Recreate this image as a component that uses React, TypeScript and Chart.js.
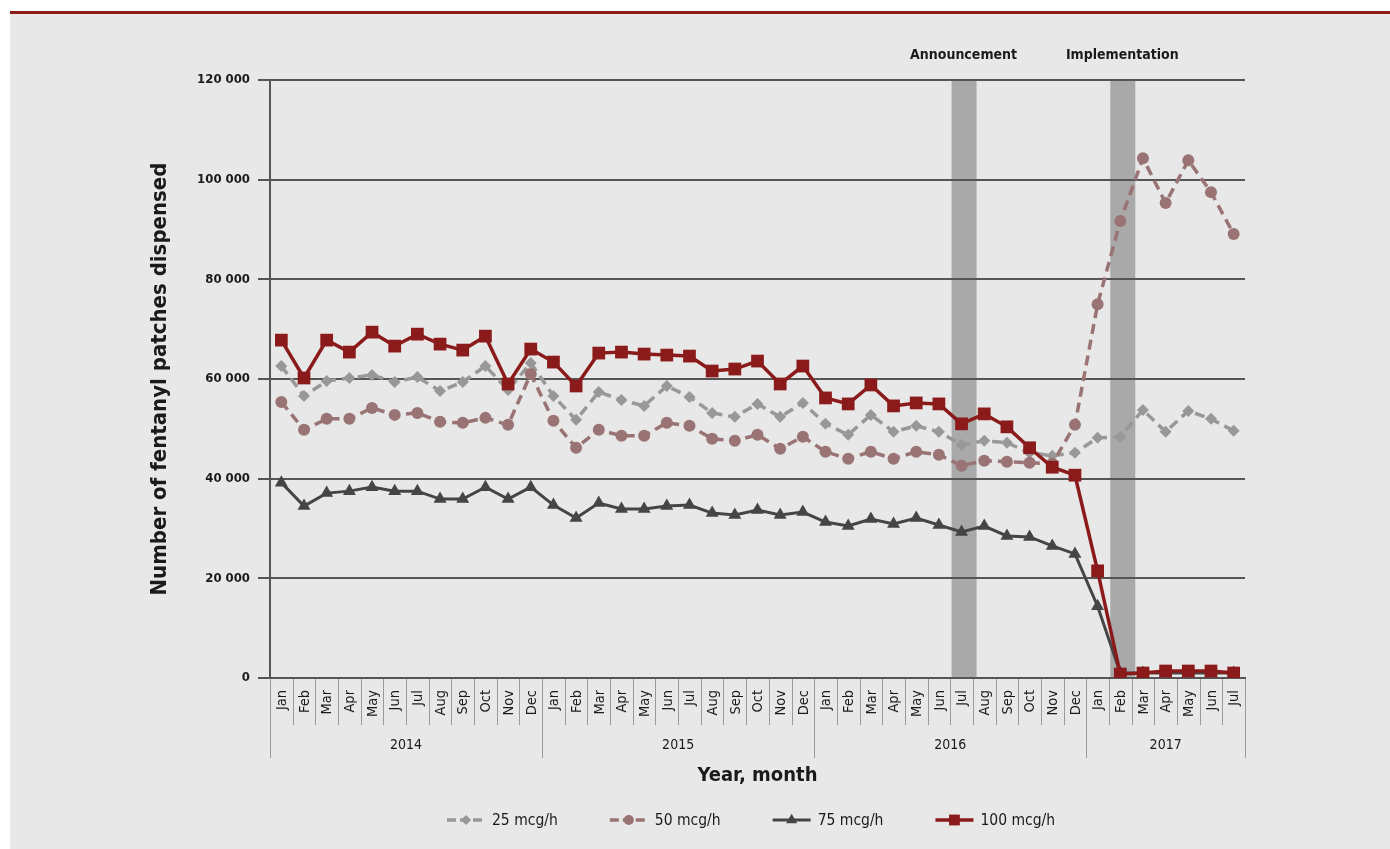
import React, { useEffect, useRef } from 'react';
import { Chart, registerables } from 'chart.js';
import { drawPoint } from 'chart.js/helpers';

Chart.register(...registerables);

const FONT = "'Liberation Sans Narrow', 'DejaVu Sans Condensed', 'Arial Narrow', 'Liberation Sans', sans-serif";

const months = [
  'Jan', 'Feb', 'Mar', 'Apr', 'May', 'Jun', 'Jul', 'Aug', 'Sep', 'Oct', 'Nov', 'Dec',
  'Jan', 'Feb', 'Mar', 'Apr', 'May', 'Jun', 'Jul', 'Aug', 'Sep', 'Oct', 'Nov', 'Dec',
  'Jan', 'Feb', 'Mar', 'Apr', 'May', 'Jun', 'Jul', 'Aug', 'Sep', 'Oct', 'Nov', 'Dec',
  'Jan', 'Feb', 'Mar', 'Apr', 'May', 'Jun', 'Jul',
];
const monthYears = [
  '2014', '2014', '2014', '2014', '2014', '2014', '2014', '2014', '2014', '2014', '2014', '2014',
  '2015', '2015', '2015', '2015', '2015', '2015', '2015', '2015', '2015', '2015', '2015', '2015',
  '2016', '2016', '2016', '2016', '2016', '2016', '2016', '2016', '2016', '2016', '2016', '2016',
  '2017', '2017', '2017', '2017', '2017', '2017', '2017',
];

const mcg25 = [
  62600, 56600, 59600, 60200, 60800, 59400, 60400, 57600, 59400, 62600, 57800, 63200,
  56600, 51800, 57400, 55800, 54600, 58600, 56400, 53200, 52400, 55000, 52400, 55200,
  51000, 48800, 52800, 49400, 50600, 49400, 46800, 47600, 47200, 45200, 44600, 45200,
  48200, 48400, 53800, 49400, 53600, 52000, 49600,
];
const mcg50 = [
  55400, 49800, 52000, 52000, 54200, 52800, 53200, 51400, 51200, 52200, 50800, 61000,
  51600, 46200, 49800, 48600, 48600, 51200, 50600, 48000, 47600, 48800, 46000, 48400,
  45400, 44000, 45400, 44000, 45400, 44800, 42600, 43600, 43400, 43200, 43000, 50800,
  75000, 91700, 104300, 95300, 103900, 97500, 89100,
];
const mcg75 = [
  39200, 34500, 37100, 37500, 38300, 37500, 37500, 35900, 35900, 38300, 35900, 38300,
  34700, 32100, 35100, 33900, 33900, 34500, 34700, 33100, 32700, 33700, 32700, 33300,
  31300, 30500, 31900, 30900, 32100, 30700, 29300, 30500, 28500, 28300, 26500, 24900,
  14400, 1000, 1000, 1000, 1000, 1000, 1000,
];
const mcg100 = [
  67800, 60200, 67800, 65400, 69400, 66600, 69000, 67000, 65800, 68600, 59000, 66000,
  63400, 58600, 65200, 65400, 65000, 64800, 64600, 61600, 62000, 63600, 59000, 62600,
  56200, 55000, 58800, 54600, 55200, 55000, 51000, 53000, 50400, 46200, 42300, 40700,
  21500, 800, 1000, 1400, 1400, 1400, 1000,
];

const yTicks = [0, 20000, 40000, 60000, 80000, 100000, 120000];

const bandLabels = ['Announcement', 'Implementation'];
const bandMonthIndex = [30, 37];

const seriesLabels = ['25 mcg/h', '50 mcg/h', '75 mcg/h', '100 mcg/h'];

const fmt = (v: number) => String(v).replace(/\B(?=(\d{3})+(?!\d))/g, ' ');

const bandsPlugin = {
  id: 'bands',
  beforeDraw(chart: any) {
    const { ctx, chartArea, scales } = chart;
    const x = scales.x;
    ctx.save();
    bandMonthIndex.forEach((idx, k) => {
      const c = x.getPixelForValue(idx);
      ctx.fillStyle = '#a9a9a9';
      ctx.fillRect(c - 10, chartArea.top, 25, chartArea.bottom - chartArea.top);
      ctx.fillStyle = '#1a1a1a';
      ctx.font = `bold 14px ${FONT}`;
      ctx.textAlign = 'center';
      ctx.textBaseline = 'middle';
      ctx.fillText(bandLabels[k], c + 2, chartArea.top - 25);
    });
    ctx.restore();
  },
};

const xLabelsPlugin = {
  id: 'xlabels',
  afterDraw(chart: any) {
    const { ctx, chartArea, scales } = chart;
    const x = scales.x;
    const n = months.length;
    const cw = (x.getPixelForValue(n - 1) - x.getPixelForValue(0)) / (n - 1);
    const bottom = chartArea.bottom;
    ctx.save();
    ctx.strokeStyle = '#9a9a9a';
    ctx.lineWidth = 1;
    for (let i = 0; i <= n; i++) {
      const xb = Math.round(i < n ? x.getPixelForValue(i) - cw / 2 : x.getPixelForValue(n - 1) + cw / 2) + 0.5;
      const yearEdge = i === 0 || i === n || monthYears[i] !== monthYears[i - 1];
      ctx.beginPath();
      ctx.moveTo(xb, bottom + 1);
      ctx.lineTo(xb, bottom + (yearEdge ? 80 : 47));
      ctx.stroke();
    }
    ctx.fillStyle = '#1a1a1a';
    ctx.font = `14.5px ${FONT}`;
    for (let i = 0; i < n; i++) {
      const cx = x.getPixelForValue(i);
      ctx.save();
      ctx.translate(cx, bottom + 12);
      ctx.rotate(-Math.PI / 2);
      ctx.textAlign = 'right';
      ctx.textBaseline = 'middle';
      ctx.fillText(months[i], 0, 1);
      ctx.restore();
    }
    let start = 0;
    ctx.font = `14px ${FONT}`;
    ctx.textAlign = 'center';
    ctx.textBaseline = 'middle';
    for (let i = 1; i <= n; i++) {
      if (i === n || monthYears[i] !== monthYears[i - 1]) {
        const cx = (x.getPixelForValue(start) + x.getPixelForValue(i - 1)) / 2;
        ctx.fillText(monthYears[start], cx, bottom + 67);
        start = i;
      }
    }
    ctx.restore();
  },
};

const legendPlugin = {
  id: 'customLegend',
  afterDraw(chart: any) {
    const { ctx } = chart;
    const y = 806;
    let xPos = 437;
    ctx.save();
    ctx.font = `15.5px ${FONT}`;
    ctx.textBaseline = 'middle';
    ctx.textAlign = 'left';
    chart.data.datasets.forEach((ds: any) => {
      const lineLen = 38;
      ctx.strokeStyle = ds.borderColor;
      ctx.lineWidth = ds.borderWidth;
      ctx.setLineDash(ds.borderDash ? [9, 4] : []);
      ctx.beginPath();
      ctx.moveTo(xPos, y);
      ctx.lineTo(xPos + lineLen, y);
      ctx.stroke();
      ctx.setLineDash([]);
      ctx.fillStyle = ds.pointBackgroundColor;
      ctx.strokeStyle = ds.pointBackgroundColor;
      drawPoint(ctx, { pointStyle: ds.pointStyle, radius: ds.pointRadius * 0.85, borderWidth: 0, rotation: 0 }, xPos + lineLen / 2, y);
      ctx.fillStyle = '#1a1a1a';
      ctx.fillText(ds.label, xPos + lineLen + 7, y + 1);
      const w = ctx.measureText(ds.label).width;
      xPos += lineLen + 7 + w + 52;
    });
    ctx.restore();
  },
};

export default function App() {
  const ref = useRef<HTMLCanvasElement | null>(null);

  useEffect(() => {
    if (!ref.current) return;
    const chart = new Chart(ref.current, {
      type: 'line',
      data: {
        labels: months.map((m, i) => `${m} ${monthYears[i]}`),
        datasets: [
          {
            label: seriesLabels[0],
            data: mcg25,
            borderColor: '#9a9797',
            backgroundColor: '#9a9797',
            pointBackgroundColor: '#9a9797',
            pointBorderWidth: 0,
            borderWidth: 3.5,
            borderDash: [10, 6],
            pointStyle: 'rectRot',
            pointRadius: 6,
            tension: 0,
            order: 3,
          },
          {
            label: seriesLabels[1],
            data: mcg50,
            borderColor: '#9a7474',
            backgroundColor: '#9a7474',
            pointBackgroundColor: '#9a7474',
            pointBorderWidth: 0,
            borderWidth: 3.5,
            borderDash: [10, 6],
            pointStyle: 'circle',
            pointRadius: 6,
            tension: 0,
            order: 2,
          },
          {
            label: seriesLabels[2],
            data: mcg75,
            borderColor: '#454545',
            backgroundColor: '#454545',
            pointBackgroundColor: '#454545',
            pointBorderWidth: 0,
            borderWidth: 3,
            pointStyle: 'triangle',
            pointRadius: 7.5,
            tension: 0,
            order: 1,
          },
          {
            label: seriesLabels[3],
            data: mcg100,
            borderColor: '#8b1a1a',
            backgroundColor: '#8b1a1a',
            pointBackgroundColor: '#8b1a1a',
            pointBorderWidth: 0,
            borderWidth: 3.5,
            pointStyle: 'rect',
            pointRadius: 9,
            tension: 0,
            order: 0,
          },
        ],
      },
      options: {
        responsive: false,
        animation: false,
        devicePixelRatio: 1,
        layout: { padding: { top: 66, right: 145, bottom: 0, left: 0 } },
        plugins: {
          legend: { display: false },
          tooltip: { enabled: false },
        },
        scales: {
          x: {
            type: 'category',
            offset: true,
            grid: { display: false },
            border: { display: true, color: '#555555', width: 2 },
            ticks: { display: false },
            title: {
              display: true,
              text: 'Year, month',
              color: '#1a1a1a',
              font: { family: FONT, size: 20, weight: 'bold' },
              padding: { top: 0, bottom: 73 - 20 * 0.6 },
            },
            afterFit: (s: any) => { s.height = 171; },
          },
          y: {
            min: 0,
            max: 120000,
            afterBuildTicks: (s: any) => { s.ticks = yTicks.map((v) => ({ value: v })); },
            grid: { color: '#555555', lineWidth: 2, tickLength: 12, drawTicks: true },
            border: { display: true, color: '#555555', width: 2 },
            ticks: {
              padding: 8,
              color: '#1a1a1a',
              font: { family: FONT, size: 13, weight: 'bold' },
              callback: (v: any) => fmt(Number(v)),
            },
            title: {
              display: true,
              text: 'Number of fentanyl patches dispensed',
              color: '#1a1a1a',
              font: { family: FONT, size: 22, weight: 'bold' },
              padding: { top: 150 - 22 * 0.6, bottom: 0 },
            },
            afterFit: (s: any) => { s.width = 260; },
          },
        },
      },
      plugins: [bandsPlugin, xLabelsPlugin, legendPlugin],
    });
    return () => chart.destroy();
  }, []);

  return (
    <div
      style={{
        position: 'absolute',
        left: 10,
        top: 11,
        width: 1380,
        height: 838,
        background: '#e7e8e7',
        borderTop: '3px solid #8d1b1b',
        boxSizing: 'border-box',
      }}
    >
      <canvas ref={ref} width={1380} height={835} style={{ display: 'block' }} />
    </div>
  );
}
